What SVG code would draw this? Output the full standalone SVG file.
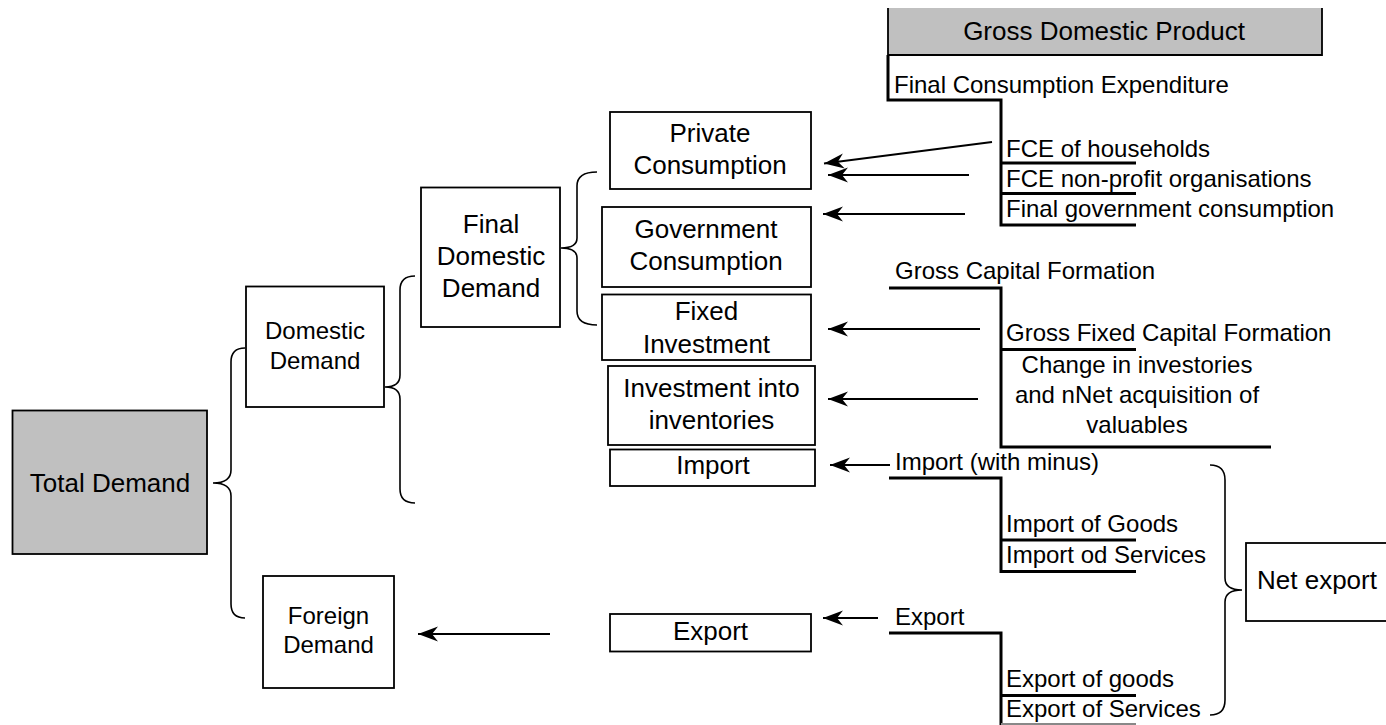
<svg xmlns="http://www.w3.org/2000/svg" width="1386" height="725" viewBox="0 0 1386 725">
<style>
text{font-family:"Liberation Sans",Arial,sans-serif;fill:#000}
.box{fill:#fff;stroke:#000;stroke-width:1.8}
.gray{fill:#c0c0c0;stroke:#000;stroke-width:1.8}
.c{text-anchor:middle;font-size:26px}
.l{font-size:24px}
.m{font-size:24px;text-anchor:middle}
.brace{fill:none;stroke:#000;stroke-width:1.6}
.tree{fill:none;stroke:#000;stroke-width:3}
.arr{fill:none;stroke:#000;stroke-width:1.8;marker-end:url(#ah)}
</style>
<defs>
<marker id="ah" markerUnits="userSpaceOnUse" markerWidth="24" markerHeight="18" viewBox="0 -9 24 18" refX="20" refY="0" orient="auto">
<path d="M20,0 L0,-7.5 L6,0 L0,7.5 Z" fill="#000"/>
</marker>
</defs>
<rect width="1386" height="725" fill="#fff"/>

<g id="total-demand">
<rect class="gray" x="12.5" y="410.5" width="194.5" height="143.5"/>
<text class="c" x="110" y="492">Total Demand</text>
</g>
<g id="domestic-demand">
<rect class="box" x="246" y="286.5" width="138" height="120.5"/>
<text class="m" x="315" y="339">Domestic</text>
<text class="m" x="315" y="369">Demand</text>
</g>
<g id="foreign-demand">
<rect class="box" x="263" y="576" width="131" height="112"/>
<text class="m" x="328.5" y="624">Foreign</text>
<text class="m" x="328.5" y="653">Demand</text>
</g>
<g id="final-domestic-demand">
<rect class="box" x="421" y="187.5" width="139" height="139.5"/>
<text class="c" x="491" y="233">Final</text>
<text class="c" x="491" y="264.5">Domestic</text>
<text class="c" x="491" y="296.5">Demand</text>
</g>
<g id="private-consumption">
<rect class="box" x="610" y="112" width="201" height="77"/>
<text class="c" x="710" y="142">Private</text>
<text class="c" x="710" y="174">Consumption</text>
</g>
<g id="government-consumption">
<rect class="box" x="602" y="207" width="209" height="80"/>
<text class="c" x="706" y="238">Government</text>
<text class="c" x="706" y="270">Consumption</text>
</g>
<g id="fixed-investment">
<rect class="box" x="602" y="294.5" width="209" height="65.5"/>
<text class="c" x="706.5" y="320">Fixed</text>
<text class="c" x="706.5" y="352.5">Investment</text>
</g>
<g id="investment-inventories">
<rect class="box" x="608" y="366" width="207" height="79"/>
<text class="c" x="711.5" y="397">Investment into</text>
<text class="c" x="711.5" y="429">inventories</text>
</g>
<g id="import">
<rect class="box" x="610" y="449.5" width="205" height="36.5"/>
<text class="c" x="713" y="474">Import</text>
</g>
<g id="export">
<rect class="box" x="610" y="614" width="201" height="37.5"/>
<text class="c" x="710.5" y="640">Export</text>
</g>
<g id="gdp">
<rect x="888" y="8" width="434" height="47" fill="#c0c0c0"/>
<path d="M888,8 V55 H1322 V8" fill="none" stroke="#000" stroke-width="1.8"/>
<text class="c" x="1104" y="40">Gross Domestic Product</text>
</g>
<g id="net-export">
<rect class="box" x="1246" y="543" width="145" height="78"/>
<text x="1257" y="589" font-size="26">Net export</text>
</g>

<g id="fce-tree">
<path class="tree" d="M888,55 V100 H1001 V225 H1136 M1001,163 H1136 M1001,193.5 H1136"/>
<text class="l" x="894" y="93">Final Consumption Expenditure</text>
<text class="l" x="1006" y="157">FCE of households</text>
<text class="l" x="1006" y="187">FCE non-profit organisations</text>
<text class="l" x="1006" y="217">Final government consumption</text>
</g>
<g id="gcf-tree">
<path class="tree" d="M889,288 H1001 V447 H1271 M1001,349.5 H1136"/>
<text class="l" x="895" y="279">Gross Capital Formation</text>
<text class="l" x="1006" y="341">Gross Fixed Capital Formation</text>
<text class="m" x="1137" y="373">Change in investories</text>
<text class="m" x="1137" y="403">and nNet acquisition of</text>
<text class="m" x="1137" y="433">valuables</text>
</g>
<g id="import-tree">
<path class="tree" d="M889,478 H1001 V571.5 H1136 M1001,540 H1136"/>
<text class="l" x="895" y="470">Import (with minus)</text>
<text class="l" x="1006" y="532">Import of Goods</text>
<text class="l" x="1006" y="563">Import od Services</text>
</g>
<g id="export-tree">
<path class="tree" d="M889,633 H1001 V726 M1001,695.5 H1136"/>
<path d="M1001,724 H1136" stroke="#888" stroke-width="2" fill="none"/>
<text class="l" x="895" y="625">Export</text>
<text class="l" x="1006" y="687">Export of goods</text>
<text class="l" x="1006" y="717">Export of Services</text>
</g>

<g id="connectors">
<path class="brace" d="M245,348 Q231,348 231,362 L231,470 Q231,483 213,483 Q231,483 231,496 L231,604 Q231,618 245,618"/>
<path class="brace" d="M415,276 Q400,276 400,290 L400,375 Q400,387 385,387 Q400,387 400,399 L400,489 Q400,503 415,503"/>
<path class="brace" d="M597,172 Q577,172 577,186 L577,238 Q577,248 561,248 Q577,248 577,258 L577,311 Q577,325 597,325"/>
<path class="brace" d="M1210,465 Q1225,465 1225,480 L1225,578 Q1225,590 1242,590 Q1225,590 1225,602 L1225,700 Q1225,715 1210,715"/>
<line class="arr" x1="992" y1="142" x2="824" y2="163.5"/>
<line class="arr" x1="969" y1="175" x2="828" y2="175"/>
<line class="arr" x1="965" y1="214" x2="823" y2="214"/>
<line class="arr" x1="980" y1="329" x2="828" y2="329"/>
<line class="arr" x1="978" y1="399" x2="828" y2="399"/>
<line class="arr" x1="890" y1="465" x2="830" y2="465"/>
<line class="arr" x1="878" y1="618" x2="823" y2="618"/>
<line class="arr" x1="550" y1="634" x2="418" y2="634"/>
</g>
</svg>
